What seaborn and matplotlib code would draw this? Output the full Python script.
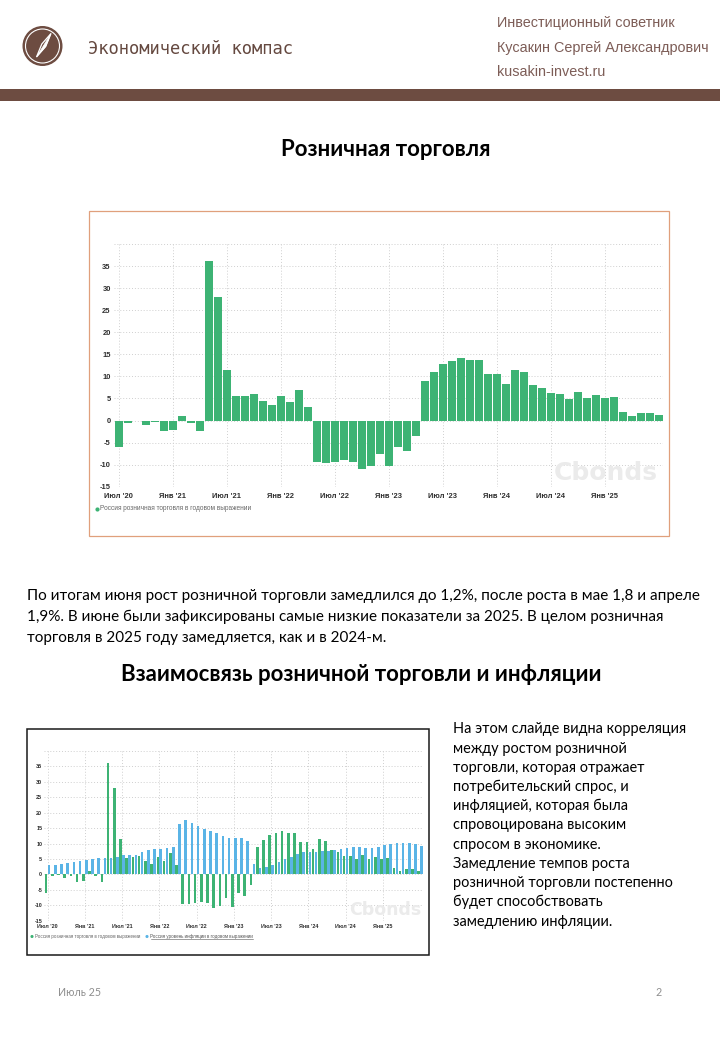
import matplotlib
matplotlib.use("Agg")
import matplotlib.pyplot as plt
from matplotlib.patches import Circle, Rectangle, Polygon
import numpy as np
import pandas as pd
import seaborn as sns

# monthly data, Jun 2020 .. Jun 2025
months = list(pd.period_range("2020-06", "2025-06", freq="M").strftime("%Y-%m"))

retail = [-6.0, -0.5, -0.1, -1.1, -0.45, -2.4, -2.2, 1.0, -0.6, -2.4,
          36.1, 27.9, 11.4, 5.5, 5.65, 6.0, 4.45, 3.5, 5.6, 4.3,
          6.9, 2.95, -9.5, -9.6, -9.3, -9.05, -9.3, -10.9, -10.2, -7.7,
          -10.4, -5.9, -6.9, -3.5, 9.0, 11.1, 12.75, 13.5, 14.2, 13.6,
          13.6, 10.5, 10.5, 8.3, 11.55, 10.9, 7.95, 7.3, 6.15, 6.0,
          4.9, 6.4, 5.0, 5.8, 5.0, 5.3, 2.0, 1.1, 1.8, 1.8, 1.2]

inflation = [3.1, 3.2, 3.4, 3.65, 4.0, 4.3, 4.7, 5.05, 5.5, 5.5,
             5.3, 5.8, 6.3, 6.3, 6.45, 7.2, 7.95, 8.15, 8.15, 8.5,
             8.9, 16.4, 17.5, 16.75, 15.7, 14.8, 14.1, 13.5, 12.35, 11.8,
             11.85, 11.85, 10.9, 3.4, 2.2, 2.3, 3.15, 4.2, 5.0, 5.8,
             6.6, 7.3, 7.3, 7.3, 7.6, 7.6, 7.8, 8.3, 8.6, 9.0,
             8.9, 8.5, 8.5, 8.9, 9.6, 10.0, 10.1, 10.2, 10.2, 9.9, 9.35]

tick_labels = ["Июл '20", "Янв '21", "Июл '21", "Янв '22", "Июл '22",
               "Янв '23", "Июл '23", "Янв '24", "Июл '24", "Янв '25"]
y_ticks = list(range(-15, 41, 5))

retail_name = "Россия розничная торговля в годовом выражении"
cpi_name = "Россия уровень инфляции в годовом выражении"

GREEN = "#3db374"
BLUE = "#5ab4e6"
BROWN = "#6d4c41"
HEAD = "#7d5d57"

W, H = 720, 1040
fig = plt.figure(figsize=(7.2, 10.4), dpi=100)
renderer = fig.canvas.get_renderer()


def rect(x0, y0, x1, y1):
    return [x0 / W, 1 - y1 / H, (x1 - x0) / W, (y1 - y0) / H]


page = fig.add_axes([0, 0, 1, 1])
page.set_xlim(0, W)
page.set_ylim(H, 0)
page.axis("off")


def fitted(s, width, **kw):
    t = page.text(0, 0, s, fontsize=10, **kw)
    w = t.get_window_extent(renderer).width
    t.remove()
    return 10 * width / w


# ---- header ----
page.add_patch(Circle((42.5, 46), 19.3, color=BROWN))
page.add_patch(Circle((42.5, 46), 17.0, fill=False, ec="white", lw=0.8))
t1, t2 = np.array([36.5, 57.0]), np.array([51.0, 33.5])
mid = (t1 + t2) / 2
d = (t2 - t1) / np.linalg.norm(t2 - t1)
perp = np.array([-d[1], d[0]]) * 2.3
page.add_patch(Polygon([t1, mid + perp, t2, mid - perp], closed=True,
                       fc=BROWN, ec="white", lw=0.9))
page.add_patch(Polygon([t1, mid + perp, t2], closed=True, fc="white", ec="white", lw=0.5))

fs = fitted("Экономический компас", 207, family="DejaVu Sans Mono")
page.text(88, 54, "Экономический компас", fontsize=fs, family="DejaVu Sans Mono",
          color="#654940", va="baseline")

fs = fitted("Кусакин Сергей Александрович", 213, family="Liberation Sans")
for y, s in [(27.5, "Инвестиционный советник"),
             (51.7, "Кусакин Сергей Александрович"),
             (76, "kusakin-invest.ru")]:
    page.text(497, y, s, fontsize=fs, family="Liberation Sans", color=HEAD, va="baseline")

page.add_patch(Rectangle((0, 89), W, 11.5, color=BROWN, lw=0))

# ---- titles and text ----
title2 = "Взаимосвязь розничной торговли и инфляции"
fs_t = fitted(title2, 483, family="Lato", weight="bold")
page.text(385.5, 156, "Розничная торговля", fontsize=fs_t, family="Lato", weight="bold",
          ha="center", va="baseline", color="black")
page.text(361.5, 681, title2, fontsize=fs_t, family="Lato", weight="bold",
          ha="center", va="baseline", color="black")

para = ["По итогам июня рост розничной торговли замедлился до 1,2%, после роста в мае 1,8 и апреле",
        "1,9%. В июне были зафиксированы самые низкие показатели за 2025. В целом розничная",
        "торговля в 2025 году замедляется, как и в 2024-м."]
fs_p = fitted(para[0], 673, family="Lato")
for i, s in enumerate(para):
    page.text(27, 600 + i * 20.8, s, fontsize=fs_p, family="Lato", va="baseline", color="black")

side = ["На этом слайде видна корреляция", "между ростом розничной",
        "торговли, которая отражает", "потребительский спрос, и",
        "инфляцией, которая была", "спровоцирована высоким",
        "спросом в экономике.", "Замедление темпов роста",
        "розничной торговли постепенно", "будет способствовать",
        "замедлению инфляции."]
fs_s = fitted(side[0], 234, family="Lato")
for i, s in enumerate(side):
    page.text(453, 733.3 + i * 19.24, s, fontsize=fs_s, family="Lato", va="baseline", color="black")

fs_f = fitted("Июль 25", 43, family="Lato")
page.text(58, 996, "Июль 25", fontsize=fs_f, family="Lato", color="#8e8e8e", va="baseline")
page.text(655, 996, "2", fontsize=fs_f, family="Lato", color="#8e8e8e", va="baseline")

# ---- frames ----
page.add_patch(Rectangle((89, 211), 580, 325, fill=False, ec="#e0a07c", lw=0.9))
page.add_patch(Rectangle((27, 729), 402, 225.5, fill=False, ec="#1a1a1a", lw=1.1))


def style(ax, size, pad_y, pad_x):
    ax.set_xlim(-0.5, 60.5)
    ax.set_ylim(-15, 40)
    ax.set_yticks(y_ticks)
    ax.set_yticklabels([str(v) if v < 40 else "" for v in y_ticks])
    ax.set_xticks(range(0, 60, 6))
    ax.set_xticklabels(tick_labels)
    ax.tick_params(axis="y", length=0, pad=pad_y)
    ax.tick_params(axis="x", length=0, pad=pad_x)
    for lbl in ax.get_xticklabels() + ax.get_yticklabels():
        lbl.set_fontsize(size)
        lbl.set_fontweight("bold")
        lbl.set_family("Liberation Sans")
        lbl.set_color("#2e2e2e")
    ax.grid(True, color="#cfcfcf", linestyle=(0, (1, 2)), linewidth=0.7)
    ax.set_axisbelow(True)
    sns.despine(ax=ax, left=True, bottom=True)
    ax.set_xlabel("")
    ax.set_ylabel("")
    ax.patch.set_alpha(0)


# ---- chart 1 ----
ax1 = fig.add_axes(rect(114.3, 244, 663.3, 486.7))
sns.barplot(x=months, y=retail, color=GREEN, saturation=1, width=0.93, ax=ax1)
style(ax1, 5.4, 2.6, 4.2)
ax1.text(0.895, 0.056, "Cbonds", transform=ax1.transAxes, fontsize=18, color="#ebebeb",
         ha="center", va="center", weight="semibold", family="DejaVu Sans", zorder=0.6)

fs_l1 = fitted(retail_name, 152, family="Liberation Sans")
page.scatter([96.5], [509], s=9, color=GREEN, lw=0)
page.text(100.5, 509, retail_name, fontsize=fs_l1, family="Liberation Sans",
          color="#666666", va="center")

# ---- chart 2 ----
ax2 = fig.add_axes(rect(44.4, 751, 423.3, 920.8))
df2 = pd.DataFrame({"month": months * 2,
                    "value": retail + inflation,
                    "series": ["retail"] * len(months) + ["cpi"] * len(months)})
sns.barplot(data=df2, x="month", y="value", hue="series", hue_order=["retail", "cpi"],
            palette=[GREEN, BLUE], saturation=1, width=0.96, gap=0.12, legend=False, ax=ax2)
style(ax2, 3.9, 1.6, 2.6)
ax2.text(0.899, 0.061, "Cbonds", transform=ax2.transAxes, fontsize=12.5, color="#ebebeb",
         ha="center", va="center", weight="semibold", family="DejaVu Sans", zorder=0.6)

fs_l2 = fitted(retail_name, 105, family="Liberation Sans")
page.scatter([32, 147], [936.5, 936.5], s=5, color=[GREEN, BLUE], lw=0)
page.text(35, 936.5, retail_name, fontsize=fs_l2, family="Liberation Sans",
          color="#666666", va="center")
lt = page.text(150.5, 936.5, cpi_name, fontsize=fs_l2, family="Liberation Sans",
               color="#555555", va="center")
bb = lt.get_window_extent(renderer)
page.plot([bb.x0, bb.x1], [H - bb.y0 + 0.3, H - bb.y0 + 0.3], color="#555555", lw=0.4)

fig.savefig("out.png", dpi=100)
